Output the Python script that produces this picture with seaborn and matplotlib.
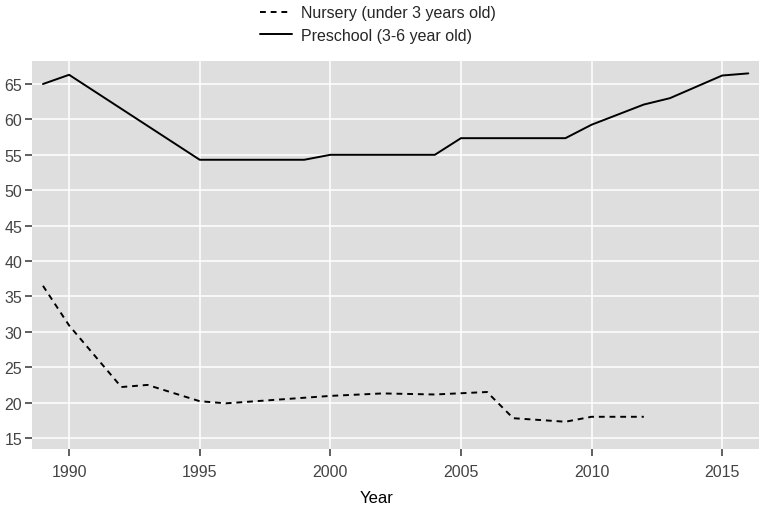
import matplotlib
matplotlib.use("Agg")
import matplotlib.pyplot as plt
import seaborn as sns
import pandas as pd

# Data
nursery_years = [1989, 1990, 1992, 1993, 1995, 1996, 2000, 2002, 2004, 2006, 2007, 2009, 2010, 2012]
nursery_values = [36.5, 30.9, 22.2, 22.5, 20.2, 19.9, 20.95, 21.3, 21.15, 21.5, 17.8, 17.3, 18.0, 18.0]
preschool_years = [1989, 1990, 1995, 1999, 2000, 2004, 2005, 2009, 2010, 2012, 2013, 2015, 2016]
preschool_values = [65.0, 66.3, 54.3, 54.3, 55.0, 55.0, 57.35, 57.35, 59.25, 62.1, 63.0, 66.2, 66.5]
series_labels = ["Nursery (under 3 years old)", "Preschool (3-6 year old)"]
x_ticks = [1990, 1995, 2000, 2005, 2010, 2015]
y_ticks = [15, 20, 25, 30, 35, 40, 45, 50, 55, 60, 65]

df = pd.concat([
    pd.DataFrame({"Year": nursery_years, "value": nursery_values, "series": series_labels[0]}),
    pd.DataFrame({"Year": preschool_years, "value": preschool_values, "series": series_labels[1]}),
], ignore_index=True)

sns.set_theme(style="ticks", rc={
    "axes.facecolor": "#dedede",
    "axes.grid": True,
    "grid.color": "white",
    "grid.linewidth": 1.1,
    "axes.axisbelow": True,
})
plt.rcParams["font.family"] = ["Liberation Sans", "DejaVu Sans"]

fig = plt.figure(figsize=(7.65, 5.06), dpi=100)
ax = fig.add_axes([32 / 765, 1 - 450 / 506, (759 - 32) / 765, (450 - 62) / 506])

sns.lineplot(data=df, x="Year", y="value", style="series",
             style_order=series_labels,
             dashes={series_labels[0]: (3, 2.5), series_labels[1]: ""},
             color="black", linewidth=1.4, ax=ax, legend=True)

ax.set_xlim(1988.58, 2016.41)
ax.set_ylim(13.45, 68.25)
ax.set_xticks(x_ticks)
ax.set_yticks(y_ticks)
ax.grid(True, color="white", linewidth=1.1)
for s in ax.spines.values():
    s.set_visible(False)
ax.tick_params(axis="both", which="major", length=5, width=1.2, colors="#444444",
               labelsize=11.5, direction="out", pad=2)
ax.tick_params(axis="x", pad=6)
ax.set_ylabel("")
ax.set_xlabel("Year", fontsize=12, color="black")
ax.xaxis.set_label_coords((377 - 32) / 727, -0.105)

handles, labels = ax.get_legend_handles_labels()
ax.get_legend().remove()
fig.legend(handles, labels, loc="upper left", bbox_to_anchor=(254 / 765, 1.0),
           frameon=False, fontsize=11.5, handlelength=2.0, handletextpad=0.55,
           labelspacing=0.45, borderaxespad=0)

fig.savefig("out.png", dpi=100)
